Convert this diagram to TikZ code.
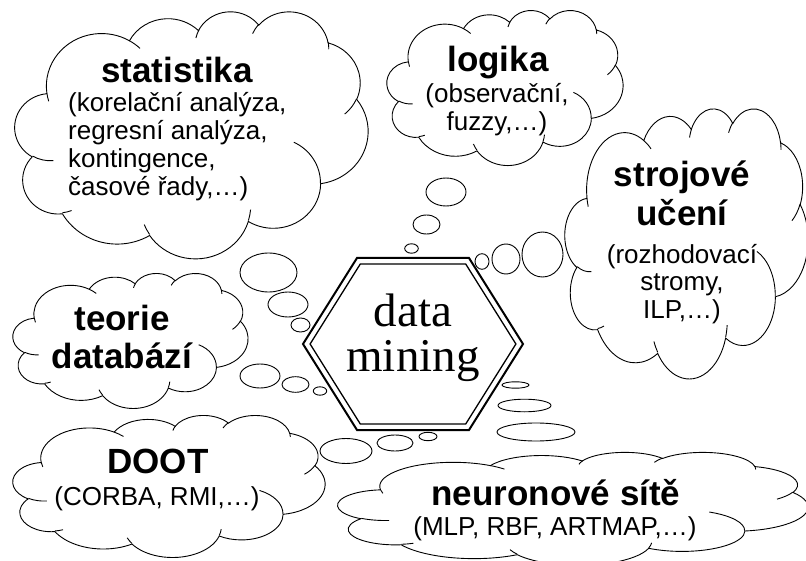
\documentclass[tikz,border=0pt]{standalone}
\usepackage{fontspec}
\setmainfont{Liberation Sans}
\newfontfamily\dmserif{Liberation Serif}

% PowerPoint cloud: convert OOXML (geometric) arc angles to parametric ones
\makeatletter
\newcommand\defcarc[5]{%
  \pgfmathsetmacro\cl@ts{atan2(#2*sin(#4),#3*cos(#4))}%
  \pgfmathsetmacro\cl@te{atan2(#2*sin(#4+#5),#3*cos(#4+#5))}%
  \pgfmathsetmacro\cl@d{\cl@te-\cl@ts}%
  \pgfmathsetmacro\cl@d{\cl@d-360*round((\cl@d-(#5))/360)}%
  \expandafter\xdef\csname cl#1s\endcsname{\cl@ts}%
  \expandafter\xdef\csname cl#1d\endcsname{\cl@d}%
}
\makeatother
% outer outline
\defcarc{A}{67.53}{91.90}{-190.48748}{123.78053}
\defcarc{B}{53.33}{72.67}{-144.10238}{89.94523}
\defcarc{C}{43.65}{59.45}{-145.80792}{99.72302}
\defcarc{D}{48.57}{65.95}{-130.98607}{117.24173}
\defcarc{E}{53.33}{72.73}{-78.70888}{109.02692}
\defcarc{F}{67.75}{92.20}{-46.26725}{130.26900}
\defcarc{G}{57.85}{78.67}{0.62502}{114.03333}
\defcarc{H}{67.52}{92.15}{22.45160}{115.17255}
\defcarc{I}{77.20}{105.43}{66.24263}{75.71102}
\defcarc{J}{43.60}{59.45}{-274.94208}{146.73557}
\defcarc{K}{43.45}{59.45}{-246.82850}{152.51885}
% inner strokes
\defcarc{a}{43.45}{59.45}{86.742}{26.4295}
\defcarc{b}{43.60}{59.45}{73.61047}{11.44747}
\defcarc{c}{67.52}{92.15}{137.62415}{14.0811}
\defcarc{d}{67.52}{92.15}{6.45327}{15.99835}
\defcarc{e}{57.85}{78.67}{-70.29235}{70.91737}
\defcarc{f}{53.33}{72.73}{30.31803}{27.7515}
\defcarc{g}{48.57}{65.95}{-13.74433}{14.8589}
\defcarc{h}{48.57}{65.95}{-149.18145}{18.19537}
\defcarc{i}{43.65}{59.45}{-163.49427}{17.68635}
\defcarc{j}{67.53}{91.90}{-66.70695}{12.31935}
\defcarc{k}{67.53}{91.90}{157.65435}{11.85817}

\newcommand\pptcloud[4]{%
\begin{scope}[shift={(#1,-#2)},xscale=#3/432,yscale=-#4/432]
\filldraw[cloudline] (39,143.7)
 arc[start angle=\clAs,delta angle=\clAd,x radius=67.53,y radius=91.90]
 arc[start angle=\clBs,delta angle=\clBd,x radius=53.33,y radius=72.67]
 arc[start angle=\clCs,delta angle=\clCd,x radius=43.65,y radius=59.45]
 arc[start angle=\clDs,delta angle=\clDd,x radius=48.57,y radius=65.95]
 arc[start angle=\clEs,delta angle=\clEd,x radius=53.33,y radius=72.73]
 arc[start angle=\clFs,delta angle=\clFd,x radius=67.75,y radius=92.20]
 arc[start angle=\clGs,delta angle=\clGd,x radius=57.85,y radius=78.67]
 arc[start angle=\clHs,delta angle=\clHd,x radius=67.52,y radius=92.15]
 arc[start angle=\clIs,delta angle=\clId,x radius=77.20,y radius=105.43]
 arc[start angle=\clJs,delta angle=\clJd,x radius=43.60,y radius=59.45]
 arc[start angle=\clKs,delta angle=\clKd,x radius=43.45,y radius=59.45]
 -- cycle;
\draw[cloudinner]
 (46.93,261.77) arc[start angle=\clas,delta angle=\clad,x radius=43.45,y radius=59.45]
 (69.28,348.99) arc[start angle=\clbs,delta angle=\clbd,x radius=43.60,y radius=59.45]
 (164.78,390.90) arc[start angle=\clcs,delta angle=\clcd,x radius=67.52,y radius=92.15]
 (288.27,347.51) arc[start angle=\clds,delta angle=\cldd,x radius=67.52,y radius=92.15]
 (341.29,229.54) arc[start angle=\cles,delta angle=\cled,x radius=57.85,y radius=78.67]
 (417.98,153.54) arc[start angle=\clfs,delta angle=\clfd,x radius=53.33,y radius=72.73]
 (383.24,54.26) arc[start angle=\clgs,delta angle=\clgd,x radius=48.57,y radius=65.95]
 (290.78,39.52) arc[start angle=\clhs,delta angle=\clhd,x radius=48.57,y radius=65.95]
 (221.41,47.20) arc[start angle=\clis,delta angle=\clid,x radius=43.65,y radius=59.45]
 (140.00,51.92) arc[start angle=\cljs,delta angle=\cljd,x radius=67.53,y radius=91.90]
 (41.27,157.89) arc[start angle=\clks,delta angle=\clkd,x radius=67.53,y radius=91.90];
\end{scope}}

\newcommand\titlestrut{\rule{0pt}{30pt}}
\newcommand\bodystrut{\rule{0pt}{22pt}}

\tikzset{
  cloudline/.style={draw=black,fill=white,line width=0.9pt},
  cloudinner/.style={draw=black,line width=0.9pt},
  bub/.style={draw=black,fill=white,line width=0.9pt},
  title/.style={inner sep=0pt,font=\fontsize{35}{39}\selectfont\bfseries},
  body/.style={inner sep=0pt,font=\fontsize{26}{28}\selectfont},
  hexout/.style={draw=black,line width=2pt,line join=miter},
  hexin/.style={draw=black,line width=1.3pt,line join=miter},
}

\begin{document}
\begin{tikzpicture}[x=1pt,y=1pt]
\fill[white] (0,0) rectangle (806,-561);
\useasboundingbox (0,0) rectangle (806,-561);

% clouds
\pptcloud{15}{11}{353}{247}
\pptcloud{387}{10}{236}{155}
\pptcloud{565}{108}{243}{270}
\pptcloud{13}{273}{235}{135}
\pptcloud{13}{415}{312}{142}
\pptcloud{338}{452}{470}{113}

% thought bubbles
\draw[bub] (446,-192) ellipse [x radius=20,y radius=14];
\draw[bub] (426.5,-224.5) ellipse [x radius=13.5,y radius=9.5];
\draw[bub] (411.5,-248.5) ellipse [x radius=6.8,y radius=4.7];

\draw[bub] (482,-261.5) ellipse [x radius=7,y radius=7.8];
\draw[bub] (506,-259) ellipse [x radius=14,y radius=15];
\draw[bub] (542.5,-254.5) ellipse [x radius=20.5,y radius=22.5];

\draw[bub] (268.5,-272.5) ellipse [x radius=28.5,y radius=19.5];
\draw[bub] (288,-304.5) ellipse [x radius=20,y radius=12.5];
\draw[bub] (300.5,-325) ellipse [x radius=9.5,y radius=7];

\draw[bub] (260,-376) ellipse [x radius=20,y radius=12];
\draw[bub] (295.5,-384.5) ellipse [x radius=13.5,y radius=7.8];
\draw[bub] (320,-391) ellipse [x radius=6.7,y radius=4.2];

\draw[bub] (346,-451) ellipse [x radius=26,y radius=12.5];
\draw[bub] (395,-443) ellipse [x radius=18,y radius=8];
\draw[bub] (428,-436.5) ellipse [x radius=9,y radius=4.2];

\draw[bub] (515.5,-385) ellipse [x radius=13.5,y radius=3.2];
\draw[bub] (524.5,-405.5) ellipse [x radius=26.5,y radius=6.3];
\draw[bub] (536,-432) ellipse [x radius=39,y radius=9];

% hexagon
\draw[hexout] (303,-344) -- (357,-258) -- (469,-258) -- (523,-344) -- (469,-430) -- (357,-430) -- cycle;
\draw[hexin] (310.1,-344) -- (360.3,-264) -- (465.7,-264) -- (515.9,-344) -- (465.7,-424) -- (360.3,-424) -- cycle;
\node (dm) [anchor=north,inner sep=0pt,align=center,font=\dmserif\fontsize{47}{45}\selectfont] at (413,-290) {\rule{0pt}{36pt}data\\mining};

% texts
\node (stT) [title,anchor=base] at (177,-82.5) {statistika};
\node (stB) [body,anchor=north west,align=left] at (68,-89) {\bodystrut(korelační analýza,\\regresní analýza,\\kontingence,\\časové řady,…)};

\node (loT) [title,anchor=base] at (498,-72) {logika};
\node (loB) [body,anchor=north,align=center] at (497,-80) {\bodystrut(observační,\\fuzzy,…)};

\node (suT) [title,anchor=north,align=center] at (682,-156) {\titlestrut strojové\\učení};
\node (suB) [body,anchor=north,align=center,font=\fontsize{26}{27.5}\selectfont] at (682,-241) {\bodystrut(rozhodovací\\stromy,\\ILP,…)};

\node (tdT) [title,anchor=north,align=center,font=\fontsize{35}{38}\selectfont\bfseries] at (122,-300) {\titlestrut teorie\\databází};

\node (doT) [title,anchor=base] at (158,-473) {DOOT};
\node (doB) [body,anchor=base] at (157,-505) {(CORBA, RMI,…)};

\node (nsT) [title,anchor=base] at (556,-505) {neuronové sítě};
\node (nsB) [body,anchor=base] at (555,-535) {(MLP, RBF, ARTMAP,…)};
\end{tikzpicture}
\end{document}
